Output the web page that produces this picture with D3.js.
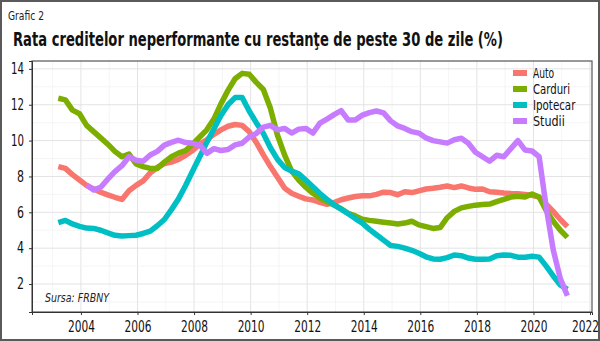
<!DOCTYPE html>
<html>
<head>
<meta charset="utf-8">
<script src="https://cdn.jsdelivr.net/npm/d3@7"></script>
<style>
  body { margin: 0; background: #fff; }
  svg { display: block; }
  text { font-family: "DejaVu Sans", sans-serif; font-stretch: condensed; }
</style>
</head>
<body>
<svg id="chart" width="600" height="341"></svg>
<script>
// quarterly data, 2003Q1 - 2021Q1
const startYear = 2003;
const auto = [8.55, 8.45, 8.1, 7.8, 7.5, 7.3, 7.12, 6.97, 6.84, 6.72, 7.2, 7.5, 7.75, 8.2, 8.5, 8.72,
  8.8, 8.95, 9.18, 9.45, 9.8, 10.05, 10.35, 10.6, 10.8, 10.9, 10.85, 10.5, 9.9, 9.2, 8.55, 7.95,
  7.35, 7.06, 6.9, 6.75, 6.69, 6.55, 6.45, 6.55, 6.7, 6.8, 6.88, 6.92, 6.92, 7.0, 7.12, 7.1,
  6.98, 7.15, 7.1, 7.2, 7.3, 7.34, 7.4, 7.47, 7.38, 7.47, 7.36, 7.28, 7.3, 7.15, 7.12, 7.08,
  7.05, 7.03, 7.0, 6.95, 6.85, 6.45, 6.05, 5.6, 5.2];
const carduri = [12.36, 12.27, 11.7, 11.5, 10.85, 10.5, 10.15, 9.8, 9.4, 9.1, 9.25, 8.7, 8.55, 8.45, 8.45, 8.8,
  9.1, 9.3, 9.45, 9.8, 10.2, 10.6, 11.2, 12.05, 12.8, 13.45, 13.75, 13.7, 13.25, 12.85, 11.8, 10.3,
  9.2, 8.3, 7.8, 7.4, 7.06, 6.8, 6.6, 6.4, 6.2, 5.95, 5.8, 5.62, 5.55, 5.5, 5.45, 5.4,
  5.35, 5.4, 5.5, 5.3, 5.2, 5.1, 5.15, 5.7, 6.05, 6.25, 6.33, 6.4, 6.43, 6.46, 6.6, 6.72,
  6.85, 6.9, 6.85, 7.02, 6.85, 6.1, 5.5, 5.0, 4.6];
const ipotecar = [5.42, 5.55, 5.35, 5.22, 5.12, 5.1, 5.0, 4.85, 4.72, 4.68, 4.7, 4.72, 4.82, 4.95, 5.25, 5.6,
  6.15, 6.75, 7.5, 8.3, 9.1, 9.9, 10.65, 11.4, 12.0, 12.4, 12.4, 11.65, 11.0, 10.4, 9.6, 8.95,
  8.5, 8.3, 8.15, 7.8, 7.43, 7.05, 6.72, 6.42, 6.18, 5.92, 5.65, 5.4, 5.05, 4.75, 4.45, 4.15,
  4.1, 4.0, 3.88, 3.72, 3.52, 3.4, 3.38, 3.47, 3.62, 3.58, 3.45, 3.38, 3.38, 3.4, 3.58, 3.62,
  3.6, 3.5, 3.49, 3.55, 3.5, 3.0, 2.45, 1.95, 1.7];
const studii = [null, null, null, null, 7.52, 7.25, 7.4, 7.85, 8.27, 8.6, 9.1, 8.9, 8.85, 9.2, 9.4, 9.75,
  9.9, 10.02, 9.89, 9.85, 9.75, 9.29, 9.55, 9.45, 9.5, 9.76, 9.85, 10.2, 10.4, 10.75, 10.85, 10.6,
  10.68, 10.42, 10.64, 10.68, 10.42, 10.97, 11.2, 11.45, 11.67, 11.15, 11.15, 11.42, 11.56, 11.65, 11.55, 11.1,
  10.82, 10.68, 10.5, 10.42, 10.15, 10.0, 9.93, 9.86, 10.05, 10.13, 9.85, 9.35, 9.1, 8.85, 9.18, 9.1,
  9.55, 10.0, 9.48, 9.42, 9.1, 6.3, 3.9, 2.3, 1.35];
const seriesNames = ["Auto", "Carduri", "Ipotecar", "Studii"];
const seriesColors = ["#F8766D", "#7CAE00", "#00BFC4", "#C77CFF"];
const xTicks = [2004, 2006, 2008, 2010, 2012, 2014, 2016, 2018, 2020, 2022];
const yTicks = [2, 4, 6, 8, 10, 12, 14];

const svg = d3.select("#chart");
const plotL = 32, plotR = 592, plotT = 61, plotB = 312;

// outer frame
svg.append("rect")
  .attr("x", 1).attr("y", 1).attr("width", 598).attr("height", 339)
  .attr("fill", "#fff").attr("stroke", "#5a5a5a").attr("stroke-width", 2);

svg.append("text")
  .attr("x", 8).attr("y", 20)
  .attr("textLength", 36).attr("lengthAdjust", "spacingAndGlyphs")
  .style("font-size", "12px").style("fill", "#222")
  .text("Grafic 2");

svg.append("text")
  .attr("x", 13).attr("y", 46)
  .attr("textLength", 490).attr("lengthAdjust", "spacingAndGlyphs")
  .style("font-size", "19px").style("font-weight", "bold").style("fill", "#111")
  .text("Rata creditelor neperformante cu restanţe de peste 30 de zile (%)");

const x = d3.scaleLinear().domain([2002.27, 2022.07]).range([plotL, plotR]);
const y = d3.scaleLinear().domain([0.44, 14.44]).range([plotB, plotT]);

// grid
const grid = svg.append("g");
d3.range(2003, 2023).forEach(yr => {
  grid.append("line")
    .attr("x1", x(yr)).attr("x2", x(yr)).attr("y1", plotT).attr("y2", plotB)
    .attr("stroke", yr % 2 === 0 ? "#e3e3e3" : "#f0f0f0").attr("stroke-width", yr % 2 === 0 ? 1 : 0.7);
});
d3.range(1, 15).forEach(v => {
  grid.append("line")
    .attr("x1", plotL).attr("x2", plotR).attr("y1", y(v)).attr("y2", y(v))
    .attr("stroke", v % 2 === 0 ? "#e3e3e3" : "#f0f0f0").attr("stroke-width", v % 2 === 0 ? 1 : 0.7);
});

// panel border
svg.append("rect")
  .attr("x", plotL).attr("y", plotT).attr("width", plotR - plotL).attr("height", plotB - plotT)
  .attr("fill", "none").attr("stroke", "#555").attr("stroke-width", 1.2);

// axes
const xAxis = svg.append("g")
  .attr("transform", `translate(0, ${plotB})`)
  .call(d3.axisBottom(x).tickValues(xTicks).tickFormat(d3.format("d")).tickSize(3).tickPadding(6));
xAxis.select(".domain").attr("stroke", "#333");
xAxis.selectAll("line").attr("stroke", "#333");
xAxis.selectAll("text").style("font-size", "15px").style("fill", "#111")
  .style("font-family", "'DejaVu Sans', sans-serif")
  .attr("textLength", 27).attr("lengthAdjust", "spacingAndGlyphs");
xAxis.selectAll(".tick").filter(d => d === 2022).select("text").attr("dx", "-5");

const yAxis = svg.append("g")
  .attr("transform", `translate(${plotL}, 0)`)
  .call(d3.axisLeft(y).tickValues(yTicks).tickSize(3).tickPadding(5));
yAxis.select(".domain").attr("stroke", "#333");
yAxis.selectAll("line").attr("stroke", "#333");
yAxis.selectAll("text").style("font-size", "15px").style("fill", "#111")
  .style("font-family", "'DejaVu Sans', sans-serif")
  .attr("textLength", d => d >= 10 ? 13 : 7).attr("lengthAdjust", "spacingAndGlyphs");

// lines
const allSeries = [auto, carduri, ipotecar, studii];
const line = d3.line()
  .defined(d => d.v !== null)
  .x(d => x(d.t))
  .y(d => y(d.v));

const plot = svg.append("g");
allSeries.forEach((vals, i) => {
  const pts = vals.map((v, k) => ({ t: startYear + 0.2 + k * 0.25, v: v }));
  plot.append("path")
    .datum(pts)
    .attr("d", line)
    .attr("fill", "none")
    .attr("stroke", seriesColors[i])
    .attr("stroke-width", 5.5)
    .attr("stroke-linejoin", "round");
});

// legend
const legend = svg.append("g").attr("transform", "translate(513, 73)");
seriesNames.forEach((name, i) => {
  legend.append("rect")
    .attr("x", 0).attr("y", i * 16 - 3).attr("width", 14).attr("height", 6)
    .attr("fill", seriesColors[i]);
  legend.append("text")
    .attr("x", 20).attr("y", i * 16 + 5)
    .attr("textLength", name.length * 5.3).attr("lengthAdjust", "spacingAndGlyphs")
    .style("font-size", "14px").style("fill", "#111")
    .text(name);
});

svg.append("text")
  .attr("x", 45).attr("y", 302)
  .attr("textLength", 64).attr("lengthAdjust", "spacingAndGlyphs")
  .style("font-size", "13px").style("font-style", "italic").style("fill", "#222")
  .text("Sursa: FRBNY");
</script>
</body>
</html>
